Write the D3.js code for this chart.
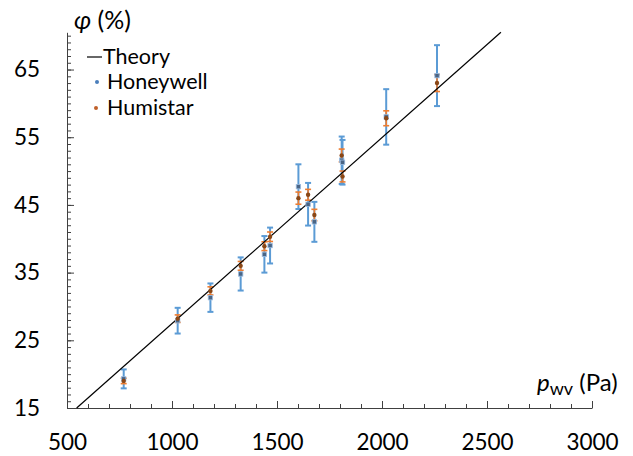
<!DOCTYPE html>
<html>
<head>
<meta charset="utf-8">
<script src="https://cdn.jsdelivr.net/npm/d3@7"></script>
<style>
  body { margin: 0; background: #fff; }
  svg text { font-family: Lato, "Open Sans", sans-serif; fill: #000; }
</style>
</head>
<body>
<div id="container"></div>
<script>
const WIDTH = 633;
const HEIGHT = 456;

// data
const pressure = [770, 1027, 1183, 1327, 1440, 1467, 1602, 1648, 1678, 1808, 1812, 2020, 2262];
const honeywell = [19.3, 27.9, 31.3, 34.8, 37.7, 39.0, 47.7, 45.1, 42.5, 51.6, 51.3, 58.0, 64.1];
const honeywellErr = [1.4, 1.9, 2.1, 2.45, 2.7, 2.65, 3.3, 3.15, 2.95, 3.5, 3.3, 4.1, 4.5];
const humistar = [19.0, 28.2, 32.3, 36.0, 38.9, 40.3, 46.0, 46.5, 43.5, 52.3, 49.2, 57.8, 63.0];
const humistarErr = [0.4, 0.55, 0.6, 0.65, 0.65, 0.7, 0.9, 0.8, 0.85, 0.95, 0.8, 1.1, 1.25];
const xTicks = [500, 1000, 1500, 2000, 2500, 3000];
const yTicks = [15, 25, 35, 45, 55, 65];
const psat = 3640; // theory: phi = 100 * p / psat

const xScale = d3.scaleLinear().domain([500, 3000]).range([67, 592]);
const yScale = d3.scaleLinear().domain([15, 70.5]).range([408, 32.3]);

const svg = d3
  .select("div#container")
  .append("svg")
  .attr("width", WIDTH)
  .attr("height", HEIGHT);

// minor ticks
svg
  .append("g")
  .attr("transform", `translate(0, ${yScale(15)})`)
  .call(d3.axisBottom(xScale).tickValues(d3.range(500, 3001, 100)).tickSize(-4).tickFormat(""))
  .call((g) => g.select(".domain").remove());
svg
  .append("g")
  .attr("transform", `translate(${xScale(500)}, 0)`)
  .call(d3.axisLeft(yScale).tickValues(d3.range(15, 71, 1)).tickSize(-4).tickFormat(""))
  .call((g) => g.select(".domain").remove());

// major axes
svg
  .append("g")
  .attr("transform", `translate(0, ${yScale(15)})`)
  .call(
    d3.axisBottom(xScale).tickValues(xTicks).tickFormat(d3.format("d"))
      .tickSizeInner(-7).tickSizeOuter(0).tickPadding(26)
  );
svg
  .append("g")
  .attr("transform", `translate(${xScale(500)}, 0)`)
  .call(d3.axisLeft(yScale).tickValues(yTicks).tickSizeInner(-7).tickSizeOuter(0).tickPadding(27));

svg.selectAll(".tick line").attr("stroke", "#404040");
svg.selectAll(".domain").attr("stroke", "#404040");
svg.selectAll(".tick text").attr("font-size", 22.5).attr("font-family", "Lato");

// error bars
function errorBars(vals, errs, color, width, cap) {
  const g = svg.append("g").attr("stroke", color).attr("stroke-width", width);
  pressure.forEach((p, i) => {
    const x = xScale(p);
    const y0 = yScale(vals[i] - errs[i]);
    const y1 = yScale(vals[i] + errs[i]);
    g.append("line").attr("x1", x).attr("x2", x).attr("y1", y0).attr("y2", y1);
    g.append("line").attr("x1", x - cap).attr("x2", x + cap).attr("y1", y0).attr("y2", y0);
    g.append("line").attr("x1", x - cap).attr("x2", x + cap).attr("y1", y1).attr("y2", y1);
  });
}
errorBars(honeywell, honeywellErr, "#5B9BD5", 2, 3);
errorBars(humistar, humistarErr, "#ED7D31", 1.6, 3);

// theory line
const pLo = (15 * psat) / 100;
const pHi = (70.5 * psat) / 100;
svg
  .append("line")
  .attr("x1", xScale(pLo))
  .attr("y1", yScale(15))
  .attr("x2", xScale(pHi))
  .attr("y2", yScale(70.5))
  .attr("stroke", "#000")
  .attr("stroke-width", 1.2);

// markers
svg
  .append("g")
  .selectAll("rect")
  .data(honeywell)
  .join("rect")
  .attr("x", (d, i) => xScale(pressure[i]) - 2.2)
  .attr("y", (d) => yScale(d) - 2.2)
  .attr("width", 4.4)
  .attr("height", 4.4)
  .attr("fill", "#4A6585")
  .attr("stroke", "#9CBCE0")
  .attr("stroke-width", 0.8);
svg
  .append("g")
  .selectAll("circle")
  .data(humistar)
  .join("circle")
  .attr("cx", (d, i) => xScale(pressure[i]))
  .attr("cy", (d) => yScale(d))
  .attr("r", 2.2)
  .attr("fill", "#8A4716");

// axis titles
svg
  .append("text")
  .attr("x", 74)
  .attr("y", 29)
  .attr("font-size", 25)
  .html('<tspan font-style="italic">φ</tspan> (%)');
svg
  .append("text")
  .attr("x", 537)
  .attr("y", 391)
  .attr("font-size", 24)
  .html('<tspan font-style="italic">p</tspan><tspan font-size="18" dy="4">wv</tspan><tspan dy="-4"> (Pa)</tspan>');

// legend
const legend = svg.append("g").attr("font-size", 21.5);
legend.append("line").attr("x1", 87).attr("x2", 102).attr("y1", 57).attr("y2", 57).attr("stroke", "#000").attr("stroke-width", 1.2);
legend.append("text").attr("x", 103).attr("y", 64).text("Theory");
legend.append("circle").attr("cx", 97).attr("cy", 82).attr("r", 2).attr("fill", "#4A7EBB");
legend.append("text").attr("x", 107).attr("y", 89).text("Honeywell");
legend.append("circle").attr("cx", 96).attr("cy", 108).attr("r", 2).attr("fill", "#C0602A");
legend.append("text").attr("x", 107).attr("y", 115).text("Humistar");
</script>
</body>
</html>
